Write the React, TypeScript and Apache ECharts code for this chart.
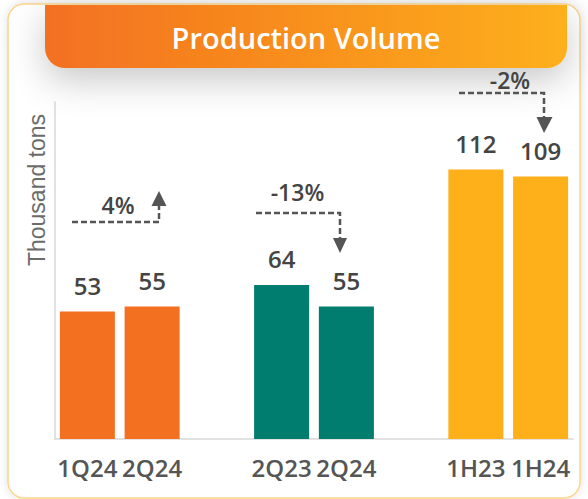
import React, { useEffect, useRef } from "react";
import * as echarts from "echarts";

const categories = ["1Q24", "2Q24", "", "2Q23", "2Q24", "", "1H23", "1H24"];
const values: (number | null)[] = [53, 55, null, 64, 55, null, 112, 109];
const barColors = ["#F37021", "#F37021", "#fff", "#007D6F", "#007D6F", "#fff", "#FDB01A", "#FDB01A"];
const changeLabels = ["4%", "-13%", "-2%"];
const title = "Production Volume";
const yAxisName = "Thousand tons";
const yMax = 140;

const FONT = "'Open Sans', 'Noto Sans', sans-serif";

function arrow(points: number[][], head: number[][]) {
  return [
    {
      type: "polyline",
      z: 20,
      shape: { points },
      style: { stroke: "#555", lineWidth: 2.5, lineDash: [6, 3], fill: null },
    },
    {
      type: "polygon",
      z: 20,
      shape: { points: head },
      style: { fill: "#555" },
    },
  ];
}

export default function App() {
  const ref = useRef<HTMLDivElement>(null);
  useEffect(() => {
    if (!ref.current) return;
    const chart = echarts.init(ref.current, null, { renderer: "svg" });
    const option: any = {
      animation: false,
      backgroundColor: "#ffffff",
      grid: { left: 55, right: 15, top: 102, bottom: 60, containLabel: false },
      xAxis: {
        type: "category",
        data: categories,
        axisLine: { show: true, lineStyle: { color: "#d9d9d9", width: 1.5 } },
        axisTick: { show: false },
        axisLabel: {
          interval: 0,
          margin: 16,
          fontFamily: FONT,
          fontSize: 24,
          fontWeight: 600,
          color: "#555555",
        },
      },
      yAxis: {
        type: "value",
        min: 0,
        max: yMax,
        axisLine: { show: true, lineStyle: { color: "#d9d9d9", width: 1.5 } },
        axisTick: { show: false },
        axisLabel: { show: false },
        splitLine: { show: false },
      },
      series: [
        {
          type: "bar",
          barWidth: "85%",
          z: 5,
          data: values.map((v, i) => ({ value: v, itemStyle: { color: barColors[i] } })),
          label: {
            show: true,
            position: "top",
            distance: 14,
            fontFamily: FONT,
            fontSize: 24,
            fontWeight: 600,
            color: "#444444",
          },
        },
      ],
      graphic: [
        {
          type: "rect",
          z: -10,
          shape: { x: 8, y: 4, width: 572, height: 494, r: 16 },
          style: {
            fill: "#ffffff",
            stroke: "#FCD48A",
            lineWidth: 1.5,
            shadowBlur: 10,
            shadowColor: "rgba(0,0,0,0.12)",
          },
        },
        {
          type: "rect",
          z: 10,
          shape: { x: 45, y: 5, width: 522, height: 63, r: [0, 0, 20, 20] },
          style: {
            fill: new echarts.graphic.LinearGradient(0, 0, 1, 0, [
              { offset: 0, color: "#F37021" },
              { offset: 1, color: "#FDB01A" },
            ]),
            shadowBlur: 36,
            shadowOffsetY: 12,
            shadowColor: "rgba(0,0,0,0.22)",
          },
        },
        {
          type: "text",
          z: 11,
          x: 306,
          y: 37,
          style: {
            text: title,
            fill: "#ffffff",
            fontFamily: FONT,
            fontSize: 29,
            fontWeight: 600,
            align: "center",
            verticalAlign: "middle",
          },
        },
        {
          type: "text",
          z: 11,
          x: 36.5,
          y: 190,
          rotation: Math.PI / 2,
          style: {
            text: yAxisName,
            fill: "#6b6b6b",
            fontFamily: "'Liberation Sans', Arial, sans-serif",
            fontSize: 23,
            align: "center",
            verticalAlign: "middle",
          },
        },
        ...arrow(
          [[72, 222], [159, 222], [159, 206]],
          [[151.5, 206], [166.5, 206], [159, 191]]
        ),
        ...arrow(
          [[256, 213], [340, 213], [340, 238]],
          [[333, 238], [347, 238], [340, 253]]
        ),
        ...arrow(
          [[459, 93], [544, 93], [544, 117]],
          [[536.5, 117], [552.5, 117], [544, 133]]
        ),
        ...[
          [118, 204.5],
          [297.5, 191.5],
          [510, 79.5],
        ].map((p, i) => ({
          type: "text",
          z: 21,
          x: p[0],
          y: p[1],
          style: {
            text: changeLabels[i],
            fill: "#444444",
            fontFamily: FONT,
            fontSize: 23,
            fontWeight: 600,
            align: "center",
            verticalAlign: "middle",
          },
        })),
      ],
    };
    chart.setOption(option);
    return () => chart.dispose();
  }, []);
  return (
    <div
      ref={ref}
      style={{ position: "absolute", left: 0, top: 0, width: 588, height: 499 }}
    />
  );
}
